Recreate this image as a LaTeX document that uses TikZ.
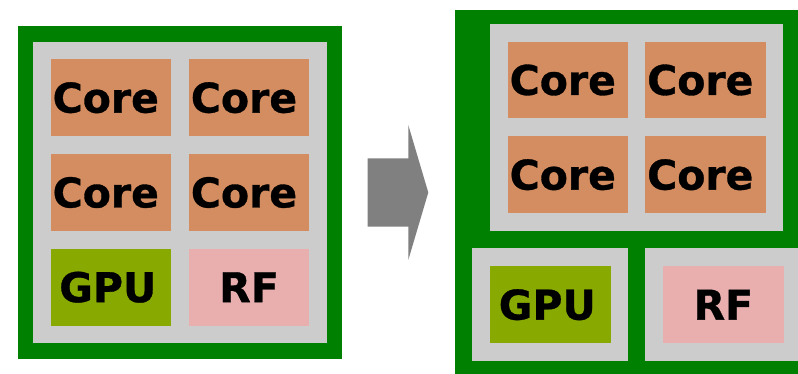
\documentclass[tikz,border=0pt]{standalone}
\usepackage{fontspec}
\setmainfont[BoldFeatures={FakeBold=0.8}]{DejaVu Sans}
\begin{document}
\begin{tikzpicture}[x=1pt,y=-1pt,
  chip/.style={fill=chipgreen,draw=none},
  tray/.style={fill=traygray,draw=none},
  unit/.style={draw=none,inner sep=0pt,minimum width=120.5pt,minimum height=76.8pt,
    font=\fontsize{41}{48}\selectfont\bfseries,text=black},
  core/.style={unit,fill=coreorange,execute at end node={\hspace*{10pt}}},
  gpu/.style={unit,fill=gpugreen,execute at end node={\hspace*{6pt}}},
  rf/.style={unit,fill=rfpink},
  bigarrow/.style={fill=arrowgray,draw=none}]
\definecolor{chipgreen}{RGB}{0,128,0}
\definecolor{traygray}{RGB}{204,204,204}
\definecolor{coreorange}{RGB}{212,141,96}
\definecolor{gpugreen}{RGB}{136,170,0}
\definecolor{rfpink}{RGB}{233,175,175}
\definecolor{arrowgray}{RGB}{128,128,128}
\useasboundingbox (0,0) rectangle (798,374);
\clip (0,0) rectangle (798,374);

% left chip: one tray holding every block
\fill[chip] (18,25.7) rectangle (342,359);
\fill[tray] (33.3,41.7) rectangle (326.7,343.3);
\node[core] (l11) at (110.8,97.7) {Core};
\node[core] (l12) at (249,97.7) {Core};
\node[core] (l21) at (110.8,192.5) {Core};
\node[core] (l22) at (249,192.5) {Core};
\node[gpu]  (lgpu) at (110.8,287.2) {GPU};
\node[rf]   (lrf)  at (249,287.2) {RF};

% transition arrow
\fill[bigarrow] (367.7,158.3) -- (408.3,158.3) -- (408.3,125) -- (428.3,192.5)
  -- (408.3,260) -- (408.3,226.7) -- (367.7,226.7) -- cycle;

% right chip: separate trays for cores, GPU and RF
\fill[chip] (454.5,10) rectangle (800,376);
\fill[tray] (490,24) rectangle (783.3,230.7);
\fill[tray] (472.3,248.3) rectangle (628.3,360.7);
\fill[tray] (645,248.3) rectangle (800,360.7);
\node[core] (r11) at (567.8,80) {Core};
\node[core] (r12) at (705.3,80) {Core};
\node[core] (r21) at (567.8,174.7) {Core};
\node[core] (r22) at (705.3,174.7) {Core};
\node[gpu]  (rgpu) at (550.3,304.7) {GPU};
\node[rf]   (rrf)  at (723.3,304.7) {RF};
\end{tikzpicture}
\end{document}
